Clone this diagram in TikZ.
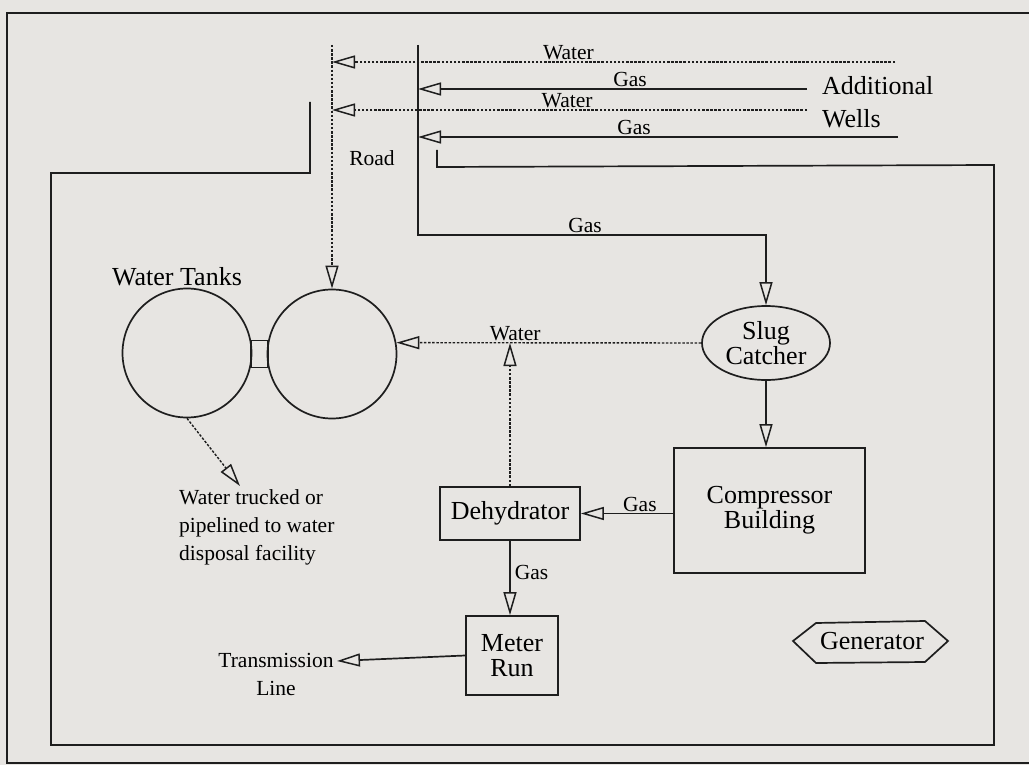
\documentclass[tikz,border=0pt]{standalone}
\usepackage{fontspec}
\setmainfont{Liberation Serif}
\usetikzlibrary{arrows.meta,shapes.geometric}
\definecolor{bg}{RGB}{231,229,226}
\definecolor{ink}{RGB}{30,30,30}
\begin{document}
\begin{tikzpicture}[x=1pt,y=-1pt,
  line/.style={draw=ink,line width=1.7pt},
  wline/.style={draw=ink,line width=1.4pt,dash pattern=on 2.5pt off 1.6pt},
  tip/.style={-{Triangle[open,length=23pt,width=13pt,line width=1.5pt]}},
  big/.style={font=\fontsize{26}{25}\selectfont},
  small/.style={font=\fontsize{21.5}{28}\selectfont},
  box/.style={line,rectangle,big,align=center,inner sep=0pt},
  tank/.style={circle,line,minimum size=129pt,inner sep=0pt},
  lab/.style={small,anchor=south,inner sep=1pt},
]
\fill[bg] (0,0) rectangle (1029,765);
\useasboundingbox (0,0) rectangle (1029,765);

% outer frame and site fence
\draw[line] (1029,13) -- (7,13) -- (7,763) -- (1029,763);
\draw[line] (310,102) -- (310,173) -- (51,173) -- (51,745) -- (994,745) -- (994,165) -- (437,167) -- (437,150);

% nodes
\node[tank] (tankL) at (187,353) {};
\node[tank] (tankR) at (332,354) {};
\node[line,rectangle,minimum width=17pt,minimum height=27pt,inner sep=0pt] (pipe) at (259.5,354) {};
\node[big,anchor=base,inner sep=0pt] (wt) at (177,285) {Water Tanks};
\node[ellipse,line,minimum width=128pt,minimum height=74pt,inner sep=0pt,big,align=center] (slug) at (766,343) {Slug\\Catcher};
\node[box,minimum width=191pt,minimum height=125pt] (comp) at (769.5,510.5) {Compressor\\Building};
\node[box,minimum width=140pt,minimum height=53pt] (dehy) at (510,513.5) {Dehydrator};
\node[box,minimum width=92pt,minimum height=79pt] (meter) at (512,655.5) {Meter\\Run};
\node[big,inner sep=0pt] (gen) at (872,641) {Generator};
\draw[line] ([shift={(-79,0)}]gen.center) -- ([shift={(-56,-18)}]gen.center) -- ([shift={(53,-20)}]gen.center) -- ([shift={(76,0)}]gen.center) -- ([shift={(53,21)}]gen.center) -- ([shift={(-56,22)}]gen.center) -- cycle;
\node[big,anchor=base west,inner sep=0pt] (add) at (822,95) {Additional};
\node[big,anchor=base west,inner sep=0pt] (wells) at (822,128) {Wells};
\node[small] (road) at (372,158) {Road};
\node[small,align=center] (trans) at (276,674) {Transmission\\Line};
\node[small,align=left,anchor=west,inner sep=0pt] (note) at (179,527) {Water trucked or\\pipelined to water\\disposal facility};

% free ends
\coordinate (w1s) at (895,62);  \coordinate (w1e) at (332,62);
\coordinate (g1s) at (807,89);  \coordinate (g1e) at (418,89);
\coordinate (w2s) at (807,110); \coordinate (w2e) at (332,110);
\coordinate (g2s) at (898,137); \coordinate (g2e) at (418,137);
\coordinate (r1) at (332,45);
\coordinate (c1) at (418,45);   \coordinate (c2) at (418,235);
\coordinate (tl) at (337,661);
\coordinate (nt) at (240,486);

% connectors
\draw[wline,tip] (w1s) -- node[lab,pos=0.58] {Water} (w1e);
\draw[line,tip]  (g1s) -- node[lab,pos=0.455] {Gas} (g1e);
\draw[wline,tip] (w2s) -- node[lab,pos=0.505] {Water} (w2e);
\draw[line,tip]  (g2s) -- node[lab,pos=0.55] {Gas} (g2e);
\draw[wline,tip] (r1) -- (tankR.north);
\draw[line,tip]  (c1) -- (c2) -- node[lab,pos=0.48] {Gas} (c2 -| slug.north) -- (slug.north);
\draw[wline,tip] (slug.west) -- node[lab,pos=0.61] {Water} (tankR.10);
\draw[wline,tip] (dehy.north) -- (dehy.north |- slug.west);
\draw[line,tip]  (slug.south) -- (slug.south |- comp.north);
\draw[line,tip]  (dehy.east -| comp.west) -- node[lab,pos=0.36] {Gas} (dehy.east);
\draw[line,tip]  (dehy.south) -- node[small,anchor=west,inner sep=4pt,pos=0.42] {Gas} (dehy.south |- meter.north);
\draw[line,tip]  (meter.west) -- (tl);
\draw[wline,tip] (tankL.south) -- (nt);
\end{tikzpicture}
\end{document}
